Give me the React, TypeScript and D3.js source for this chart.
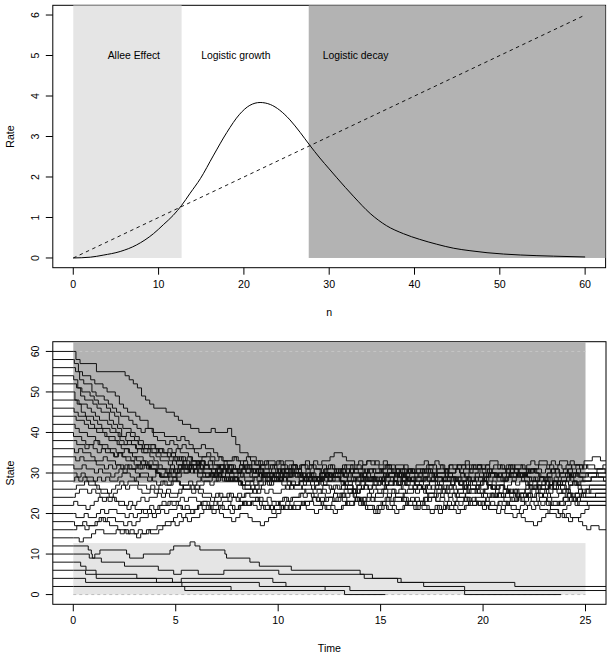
import React from "react";
import * as d3 from "d3";

// ---------- Top panel data ----------
const nPts = [0, 2, 3.5, 5.5, 7.4, 9.4, 10.6, 11.7, 12.7, 13.7, 14.9, 16.4, 18, 19.5, 20.7, 21.9, 23.1, 24.2, 25.4, 26.6, 27.7, 28.9, 30, 30.9, 32.9, 34.8, 36.7, 38.7, 40.6, 42.6, 44.6, 46.5, 48.5, 52.4, 56.3, 60];
const ratePts = [0, 0.02, 0.07, 0.16, 0.32, 0.6, 0.83, 1.05, 1.3, 1.6, 1.96, 2.52, 3.1, 3.55, 3.77, 3.84, 3.79, 3.65, 3.41, 3.1, 2.79, 2.47, 2.2, 1.98, 1.51, 1.1, 0.8, 0.6, 0.46, 0.34, 0.24, 0.18, 0.13, 0.074, 0.045, 0.025];
const deathN = [0, 60];
const deathRate = [0, 6];
const alleeEnd = 12.7;
const decayStart = 27.6;
const topXTicks = [0, 10, 20, 30, 40, 50, 60];
const topYTicks = [0, 1, 2, 3, 4, 5, 6];
const regionLabels = ["Allee Effect", "Logistic growth", "Logistic decay"];
const regionLabelN = [7.1, 19.05, 33.1];
const regionLabelRate = 5;

// ---------- Bottom panel data ----------
const botXTicks = [0, 5, 10, 15, 20, 25];
const botYTicks = [0, 10, 20, 30, 40, 50, 60];
const simEnd = 25;

// band trajectories: start state, phase of the move grid, moves every 0.2 time units
// u:+1 d:-1 U:+2 D:-2 .:no change
const bandStart = [60, 58, 56, 54, 52, 50, 48, 46, 44, 42, 40, 38, 36, 34, 32, 30, 28, 26, 24, 22, 20, 18, 16, 14];
const bandPhase = [0.13, 0.05, 0.11, 0.02, 0.16, 0.08, 0.19, 0.04, 0.14, 0.09, 0.01, 0.17, 0.06, 0.12, 0.03, 0.18, 0.07, 0.15, 0.1, 0.02, 0.13, 0.06, 0.17, 0.09];
const bandMoves = [
  "Dd... D.... ..ddd dDddd ..d.d dd.d. d..ud ..uDD D.d.d dud.u ddu.d uudud u.uu. dd.du dudud uddu. dduu. ud.du dudu. uddud uu.dd udu.d uudu. dudu. ddu.u .u.d.",
  "dDd.d d.dd. dDdd. dd.Dd ..d.. duddd .ud.d dd..u d.udd udu.d uddud u.dud duudd uu.du ddud. uudd. udud. uu.ud dd.ud u.udd duu.u dud.u ddu.d uudud uud.d u.d.u",
  "dDd.D d.ddd dd.dd ddu.D d.dud dud.d d.udd udd.d uudud dd.du udud. d.dud uudu. udu.d dudu. uu.dd ddud. uudu. udd.u duu.u dd.du udud. uduu. ddud. uu.du d....",
  "dDd.d dd.dd dDd.d ddd.. d.dud ud.dd dud.d u.dud dudd. uu.ud dd.ud udud. uudd. d.duu uudu. ddu.d udu.d dudu. d.dud uu.ud uudd. dudu. uu.dd dd.uu udud. u..d.",
  "dDd.d dd.Dd dDd.. dd.d. ud.dd udud. dd.du uu.ud dd.du udd.u d.dud uudu. udud. ddu.d uu.du udd.u dudud uudd. uu.du dd.ud dudu. uudd. d.dud uudu. udud. ..u.d",
  "Dd.dd dd.dd dDd.. d.ud. dd.du dudd. uu.dd ddud. uudu. dd.ud dudu. ddu.d uudu. udud. dd.du uu.du ddud. udud. uu.ud ddd.u udud. uu.dd duud. dd.uu uddu. .u..d",
  "dDd.d dd.d. d.udd dd.ud d.dud dd.ud udud. d.dud uudd. ddu.d uu.ud dudd. uudu. dd.du udud. uu.dd d.dud uu.ud udud. dd.uu d.dud uudu. ddud. uu.dd uudd. u....",
  "dd.dd d.dd. dd.ud d.dud dd.du d.dud uudd. dud.d uudu. ddu.d d.dud uu.ud dudu. dd.du uudu. dd.ud udud. dd.uu dd.du uu.du udud. dd.du uudu. dud.d uu.dd u....",
  "d.dd. d.dd. dd.d. ud.dd dd.ud uudu. dd.du udud. dd.uu u.dud uu.dd ddud. uu.du udud. dd.du uudu. udd.u dudd. uu.ud udu.d dd.ud uudu. dudd. uudd. udu.. d.u..",
  "dd.d. dd.d. d.udd dd.ud d.dud uudu. dd.du d.dud uu.ud dudd. uudu. ddu.d d.dud uu.ud udud. dd.du uu.du ddud. udud. uu.dd d.dud uudu. udud. dd.uu ddu.d ..u..",
  "d.dd. udd.d dud.d u.ddd dd.ud uudu. udud. dd.du ddu.d uu.ud dudd. uudu. dd.du d.dud uudu. udud. dd.uu dd.du uu.ud ddud. uudd. d.dud uudu. udud. dd.uu d....",
  "d.dud dud.d udd.d dudu. d.dud uudu. dd.du uudd. dd.ud uudu. udud. dd.du uu.ud ddud. udud. uu.ud dd.ud uudu. d.dud udud. uu.dd uu.du dd.ud uddu. dudu. .....",
  "dud.d d.ud. d.dud udud. dd.du uu.ud d.dud udd.u dd.du uudu. dudd. uu.du udud. dd.du d.dud uu.ud uudd. dudu. uu.dd dd.ud uudu. ddud. uu.du udud. dd.ud .u...",
  "dud.. d.dud udud. uudd. dd.uu ud.du dd.ud uudu. udud. dd.du uu.ud udud. d.dud uudu. uu.dd dd.ud uudu. dudu. dd.du uu.ud udud. dd.ud uudd. uu.du ddud. u....",
  "d.ud. dud.d uudu. dd.du udud. dd.ud uu.ud udud. dd.uu ud.du uu.dd dd.du uudu. udud. dd.ud uu.du dudu. uudd. d.dud uudu. dd.du uu.ud ddud. udud. uudd. .....",
  "dud.d udud. uu.dd d.dud uudu. dd.du uu.ud udud. dd.du uudu. ddud. uudd. uu.ud dd.du udud. uu.du ddud. uu.dd dudu. uu.ud dd.du d.dud uudu. udud. dd.uu d....",
  "udud. dd.du uudu. uu.dd dud.u uu.ud dd.du udud. dd.ud uudu. uu.ud ddud. udud. dd.du uu.ud udud. uu.du dd.du udud. dd.uu uu.dd uudu. dd.du udud. uu.dd .u...",
  "u.ud. dd.du uudu. dd.ud udud. uu.du dd.du d.dud uu.ud udud. uudu. dd.du udud. dd.ud uudu. udud. dd.du uu.ud uudd. dd.du uudu. udud. dd.uu dd.du udud. .....",
  "uu.du dd.du d.dud uudu. udud. uu.ud dd.du udud. dd.uu d.dud uudu. uu.du dd.ud udud. dd.du uudu. uu.du dd.du udud. dd.ud uu.ud udud. uu.dd dd.uu udud. .....",
  "ud.du uudu. dd.du d.dud uu.ud uudu. dd.du uu.ud udud. dd.du uudu. udud. dd.uu uu.dd dd.du uudu. dd.du d.dud uu.ud uudu. udud. dd.du uu.dd udud. uudd. .....",
  "d.ud. uudu. d.dud uu.ud uudu. dd.du uudd. dd.du u.dd. duu.u uudu. udud. uu.du dd.ud uudu. udud. dd.du uu.ud dudu. uu.dd dd.ud uudu. udud. dd.uu udd.. .....",
  "d.ud. uudu. d.dud uu.ud uudu. udud. uu.du dd.du uudu. udud. dd.ud uu.ud udud. uu.dd dd.du uudu. udud. dd.ud uudu. udud. dd.du d.dud d.duu uu.dd ud.dd du.d.",
  "u.du. uudd. d.dud udud. uu.ud uudu. uu.du udud. uu.dd udud. uudu. dd.du udud. uu.ud dd.du udud. uudu. dd.ud udud. uu.dd uudu. dd.du udud. d.dud du.uu u....",
  ".du.u u.d.. udud. du.u. u.u.u udu.u udud. uu.dd uudu. dd.du udud. uu.ud dd.du uudu. udud. dd.du uu.ud udud. dd.du uudu. dd.ud uu.ud dudu. dd.du uudu. d....",
];

// low (Allee region) trajectories: jump times and states
const lowTimes = [
  [0, 0.73, 0.88, 0.93, 1.05, 1.3, 2.6, 2.75, 3.42, 4.72, 4.9, 5.7, 5.94, 6.18, 7.4, 7.48, 8.62, 9.08, 10.64, 14.0, 14.6, 15.83, 21.55],
  [0, 0.78, 1.37, 2.5, 4.15, 4.9, 5.27, 6.1, 7.35, 10.03, 14.2, 16.0, 17.1, 19.1],
  [0, 0.36, 0.62, 1.11, 3.1, 4.84, 5.27, 9.74, 10.38, 12.29, 13.24],
  [0, 0.6, 1.12, 4.06, 9.08, 13.5, 19.1],
  [0, 0.6, 5.3, 7.7],
  [0, 5.44],
];
const lowStates = [
  [12, 11, 10, 9, 10, 11, 10, 9, 10, 11, 12, 13, 12, 11, 10, 9, 8, 7, 6, 5, 4, 3, 2],
  [10, 9, 8, 7, 6, 5, 6, 5, 6, 5, 4, 3, 2, 1],
  [8, 7, 6, 5, 4, 3, 4, 3, 2, 1, 0],
  [6, 5, 4, 3, 2, 1, 0],
  [4, 3, 2, 1],
  [2, 1],
];
const lowEnd = [27, 27, 15.23, 23.8, 12.29, 7.7];

const FONT = "'Liberation Sans', Arial, Helvetica, sans-serif";
const FS = 10.6;

function bandPath(start: number, ph: number, mv: string): [number, number][] {
  const pts: [number, number][] = [[-2, start], [0, start]];
  let s = start;
  let k = 0;
  for (const ch of mv) {
    if (ch === " ") continue;
    const t = ph + 0.2 * k;
    k++;
    const dlt = ch === "u" ? 1 : ch === "d" ? -1 : ch === "U" ? 2 : ch === "D" ? -2 : 0;
    if (dlt !== 0) {
      s += dlt;
      pts.push([t, s]);
    }
  }
  pts.push([27, s]);
  return pts;
}

function lowPath(ts: number[], ss: number[], end: number): [number, number][] {
  const pts: [number, number][] = [[-2, ss[0]]];
  ts.forEach((t, i) => pts.push([t, ss[i]]));
  pts.push([end, ss[ss.length - 1]]);
  return pts;
}

export default function App() {
  // ---- top panel geometry
  const tL = 52.8, tR = 605.6, tT = 5.3, tB = 267.7;
  const xT = d3.scaleLinear().domain([-2.4, 62.4]).range([tL, tR]);
  const yT = d3.scaleLinear().domain([-0.24, 6.24]).range([tB, tT]);
  // ---- bottom panel geometry
  const bL = 52.8, bR = 606, bT = 341.7, bB = 604.3;
  const xB = d3.scaleLinear().domain([-1, 26]).range([bL, bR]);
  const yB = d3.scaleLinear().domain([-2.4, 62.4]).range([bB, bT]);

  const birthLine = d3
    .line<number>()
    .x((_, i) => xT(nPts[i]))
    .y((v) => yT(v))
    .curve(d3.curveMonotoneX)(ratePts) as string;
  const deathLine = d3
    .line<number>()
    .x((_, i) => xT(deathN[i]))
    .y((v) => yT(v))(deathRate) as string;

  const stepLine = d3
    .line<[number, number]>()
    .x((d) => xB(d[0]))
    .y((d) => yB(d[1]))
    .curve(d3.curveStepAfter);

  const bandPaths = bandStart.map((s, i) => stepLine(bandPath(s, bandPhase[i], bandMoves[i])) as string);
  const lowPaths = lowTimes.map((ts, i) => stepLine(lowPath(ts, lowStates[i], lowEnd[i])) as string);

  return (
    <svg
      width={612}
      height={658}
      style={{ position: "absolute", left: 0, top: 0, background: "#fff" }}
      fontFamily={FONT}
    >
      <defs>
        <clipPath id="clipTop">
          <rect x={tL} y={tT} width={tR - tL} height={tB - tT} />
        </clipPath>
        <clipPath id="clipBot">
          <rect x={bL} y={bT} width={bR - bL} height={bB - bT} />
        </clipPath>
      </defs>
      <rect x={0} y={0} width={612} height={658} fill="#fff" />

      {/* ================= TOP PANEL ================= */}
      <rect x={tL} y={tT} width={tR - tL} height={tB - tT} fill="none" stroke="#000" strokeWidth={1} />
      <g clipPath="url(#clipTop)">
        <rect x={xT(0)} y={tT} width={xT(alleeEnd) - xT(0)} height={yT(0) - tT} fill="#e5e5e5" />
        <rect x={xT(decayStart)} y={tT} width={tR - xT(decayStart)} height={yT(0) - tT} fill="#b3b3b3" />
        <path d={deathLine} fill="none" stroke="#000" strokeWidth={0.9} strokeDasharray="3.5,3.5" />
        <path d={birthLine} fill="none" stroke="#000" strokeWidth={1} />
      </g>
      {regionLabels.map((lab, i) => (
        <text key={lab} x={xT(regionLabelN[i])} y={yT(regionLabelRate) + 3.8} fontSize={10.4} textAnchor="middle" fill="#000">
          {lab}
        </text>
      ))}
      {topXTicks.map((v) => (
        <g key={"tx" + v}>
          <line x1={xT(v)} x2={xT(v)} y1={tB} y2={tB + 7} stroke="#000" />
          <text x={xT(v)} y={tB + 20} fontSize={FS} textAnchor="middle">
            {v}
          </text>
        </g>
      ))}
      {topYTicks.map((v) => (
        <g key={"ty" + v}>
          <line x1={tL - 7} x2={tL} y1={yT(v)} y2={yT(v)} stroke="#000" />
          <text transform={`translate(${tL - 14},${yT(v)}) rotate(-90)`} fontSize={FS} textAnchor="middle">
            {v}
          </text>
        </g>
      ))}
      <text x={(tL + tR) / 2} y={tB + 48} fontSize={FS} textAnchor="middle">
        n
      </text>
      <text transform={`translate(${tL - 38.5},${(tT + tB) / 2}) rotate(-90)`} fontSize={FS} textAnchor="middle">
        Rate
      </text>

      {/* ================= BOTTOM PANEL ================= */}
      <rect x={bL} y={bT} width={bR - bL} height={bB - bT} fill="none" stroke="#000" strokeWidth={1} />
      <g clipPath="url(#clipBot)">
        <rect x={xB(0)} y={yB(alleeEnd)} width={xB(simEnd) - xB(0)} height={yB(0) - yB(alleeEnd)} fill="#e5e5e5" />
        <rect x={xB(0)} y={bT} width={xB(simEnd) - xB(0)} height={yB(decayStart) - bT} fill="#b3b3b3" />
        <line x1={xB(0)} x2={xB(simEnd)} y1={yB(0)} y2={yB(0)} stroke="#bdbdbd" strokeDasharray="3,3" />
        <line x1={xB(0)} x2={xB(simEnd)} y1={yB(60)} y2={yB(60)} stroke="#c6c6c6" strokeDasharray="3,3" />
        {lowPaths.map((d, i) => (
          <path key={"lp" + i} d={d} fill="none" stroke="#111" strokeWidth={1} />
        ))}
        {bandPaths.map((d, i) => (
          <path key={"bp" + i} d={d} fill="none" stroke="#111" strokeWidth={1} />
        ))}
      </g>
      {botXTicks.map((v) => (
        <g key={"bx" + v}>
          <line x1={xB(v)} x2={xB(v)} y1={bB} y2={bB + 7} stroke="#000" />
          <text x={xB(v)} y={bB + 20} fontSize={FS} textAnchor="middle">
            {v}
          </text>
        </g>
      ))}
      {botYTicks.map((v) => (
        <g key={"by" + v}>
          <line x1={bL - 7} x2={bL} y1={yB(v)} y2={yB(v)} stroke="#000" />
          <text transform={`translate(${bL - 14},${yB(v)}) rotate(-90)`} fontSize={FS} textAnchor="middle">
            {v}
          </text>
        </g>
      ))}
      <text x={(bL + bR) / 2} y={bB + 48} fontSize={FS} textAnchor="middle">
        Time
      </text>
      <text transform={`translate(${bL - 38.5},${(bT + bB) / 2}) rotate(-90)`} fontSize={FS} textAnchor="middle">
        State
      </text>
    </svg>
  );
}
